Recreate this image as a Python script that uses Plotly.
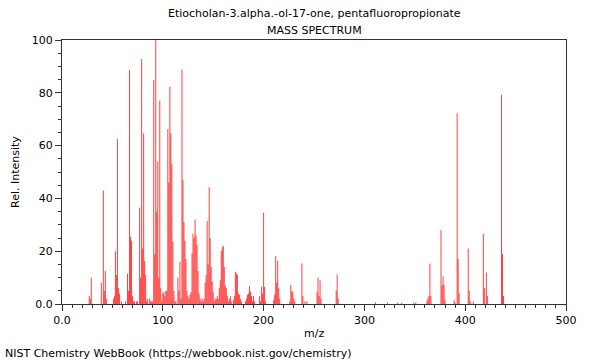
import plotly.graph_objects as go

title_line1 = "Etiocholan-3.alpha.-ol-17-one, pentafluoropropionate"
title_line2 = "MASS SPECTRUM"
footer = "NIST Chemistry WebBook (https://webbook.nist.gov/chemistry)"
x_title = "m/z"
y_title = "Rel. Intensity"

mz = [27, 28, 29, 39, 41, 42, 43, 44, 51, 52, 53, 54, 55, 56, 57, 59, 63, 65, 66, 67, 68, 69, 70, 71, 72, 74, 75,
      77, 78, 79, 80, 81, 82, 83, 84, 85, 87, 88, 89, 90,
      91, 92, 93, 94, 95, 96, 97, 98, 99, 100, 101, 102, 103, 104, 105, 106, 107, 108, 109, 110, 111, 112, 113,
      115, 116, 117, 118, 119, 120, 121, 122, 123, 124, 125, 126, 127, 128, 129, 130, 131, 132, 133, 134, 135,
      136, 137, 138, 139, 140, 141, 142, 143, 144, 145, 146, 147, 148, 149, 150, 151, 152, 153, 154, 155, 156,
      157, 158, 159, 160, 161, 162, 163, 164, 165, 166, 167, 168, 170,
      171, 172, 173, 174, 175, 176, 177, 178, 182, 183, 184, 185, 186, 187, 188, 189, 190, 191, 196, 197, 198,
      199, 200, 201, 202, 210, 211, 212, 213, 214, 215, 216, 226, 227, 228, 229, 230, 231, 238, 239, 241, 243,
      253, 254, 255, 256, 257, 272, 273, 274, 311, 323, 333, 337, 349, 351, 362, 363, 364, 365, 366,
      376, 377, 378, 379, 380, 389, 390, 392, 393, 394, 403, 404, 405, 408, 418, 419, 421, 422, 436, 437, 438]

intensity = [3, 2, 10, 8, 43, 5, 12.5, 2, 2, 3, 20, 11, 62.5, 6, 4, 1, 1, 11.5, 5, 88.6, 25.5, 24, 3, 1, 1, 1, 1,
             36.5, 9.8, 92.8, 21, 64.6, 16.3, 11, 1, 2, 2, 1, 1, 1,
             84.8, 18.8, 100, 35, 54, 10, 77, 6, 1, 4, 4.5, 3, 5, 5, 66.3, 46, 82.3, 64.6, 53, 23.5, 5, 1, 1,
             10, 5, 16, 2, 88.8, 47, 31, 24, 17, 5, 3, 2, 3.5, 4.5, 19, 26.6, 25, 32, 26, 22.5, 12.5,
             4, 2, 1, 2, 1, 2, 8, 11, 31.4, 15, 44.2, 25, 14, 8.5, 4.5, 1, 2, 2, 3, 2, 6,
             9, 20, 21.5, 22, 14, 7, 6, 3, 1, 2, 3, 1, 1.5,
             3, 12.2, 11.5, 11, 4, 3.4, 2, 1, 1, 2, 3.5, 4, 6.8, 4.7, 3, 1, 3, 1, 3, 1, 6.5,
             4, 34.6, 6.5, 1, 1.5, 3.5, 18.2, 8, 16.4, 6, 2, 1, 7.2, 5, 4.5, 2, 1, 15.4, 3, 1, 1,
             4.7, 10, 3, 9, 2, 5, 11.2, 2, 0.6, 0.5, 0.5, 0.5, 0.6, 0.6, 1, 2, 3, 15.3, 3,
             28, 7, 10.5, 7.3, 1.5, 1.5, 0.5, 72.2, 17, 4, 21, 5, 1, 1, 26.5, 6, 11.9, 3, 79.2, 19, 3]

x_tickvals = [0, 100, 200, 300, 400, 500]
x_ticktext = ["0.0", "100", "200", "300", "400", "500"]
y_tickvals = [0, 20, 40, 60, 80, 100]
y_ticktext = ["0.0", "20", "40", "60", "80", "100"]

font = dict(family="DejaVu Sans", size=11, color="#000000")
axis_color = "#333333"

# each peak drawn as a vertical stick from 0 to its intensity
stick_x, stick_y = [], []
for m, v in zip(mz, intensity):
    stick_x += [m, m, None]
    stick_y += [0, v, None]

fig = go.Figure()
fig.add_trace(go.Scatter(
    x=stick_x, y=stick_y, mode="lines", connectgaps=False,
    line=dict(color="rgba(255,0,0,0.75)", width=1),
    hoverinfo="skip",
))

fig.update_layout(
    width=600, height=360,
    margin=dict(l=62, r=34, t=40, b=56, autoexpand=False),
    paper_bgcolor="white", plot_bgcolor="white",
    font=font, showlegend=False, hovermode=False,
    annotations=[
        dict(text=title_line1, xref="paper", yref="paper", x=0.5, y=1, yshift=27,
             showarrow=False, xanchor="center", yanchor="middle", font=font),
        dict(text=title_line2, xref="paper", yref="paper", x=0.5, y=1, yshift=10,
             showarrow=False, xanchor="center", yanchor="middle", font=font),
        dict(text=x_title, xref="paper", yref="paper", x=0.5, y=0, yshift=-29,
             showarrow=False, xanchor="center", yanchor="middle", font=font),
        dict(text=y_title, xref="paper", yref="paper", x=0, xshift=-47, y=0.5,
             textangle=-90, showarrow=False, xanchor="center", yanchor="middle", font=font),
        dict(text=footer, xref="paper", yref="paper", x=0, xshift=-59, y=0, yshift=-49,
             showarrow=False, xanchor="left", yanchor="middle", font=font),
    ],
)

fig.update_xaxes(
    range=[0, 500], tickmode="array", tickvals=x_tickvals, ticktext=x_ticktext,
    ticks="outside", ticklen=6, tickcolor=axis_color, tickwidth=1,
    showline=True, linecolor=axis_color, linewidth=1, mirror=True,
    showgrid=False, zeroline=False, automargin=False,
    minor=dict(tickmode="linear", tick0=0, dtick=10, ticks="outside", ticklen=3,
               tickcolor=axis_color, showgrid=False),
    tickfont=font,
)
fig.update_yaxes(
    range=[0, 100], tickmode="array", tickvals=y_tickvals, ticktext=y_ticktext,
    ticks="outside", ticklen=6, tickcolor=axis_color, tickwidth=1,
    showline=True, linecolor=axis_color, linewidth=1, mirror=True,
    showgrid=False, zeroline=False, automargin=False,
    minor=dict(tickmode="linear", tick0=0, dtick=5, ticks="outside", ticklen=3,
               tickcolor=axis_color, showgrid=False),
    tickfont=font,
)

# remove the browser's default 8px body margin so the figure sits at the page corner
fig.write_html("out.html", config={"displayModeBar": False},
               post_script="document.body.style.margin='0';")
